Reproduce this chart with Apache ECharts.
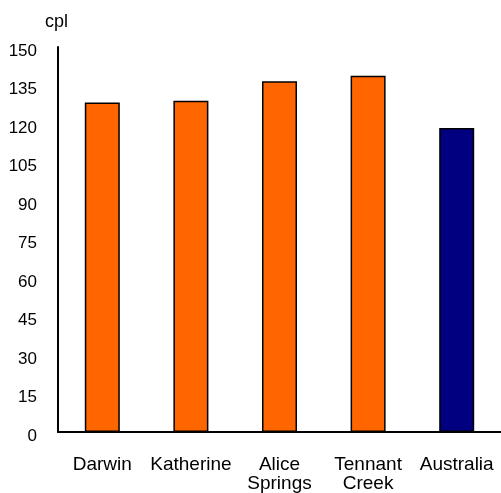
<!DOCTYPE html>
<html>
<head>
<meta charset="utf-8">
<script src="https://cdn.jsdelivr.net/npm/echarts@6/dist/echarts.min.js"></script>
<style>html,body{margin:0;padding:0;background:#fff}#c{width:501px;height:493px}</style>
</head>
<body>
<div id="c"></div>
<script>
const categories = ['Darwin', 'Katherine', 'Alice\nSprings', 'Tennant\nCreek', 'Australia'];
const values = [128.4, 129.1, 136.7, 138.8, 118.4];
const barColors = ['#FF6600', '#FF6600', '#FF6600', '#FF6600', '#000080'];
const yTicks = { min: 0, max: 150, interval: 15 };
const unitLabel = 'cpl';

const chart = echarts.init(document.getElementById('c'), null, { renderer: 'canvas' });
const font = 'Liberation Sans, Arial, sans-serif';
chart.setOption({
  animation: false,
  backgroundColor: '#fff',
  grid: { left: 58, top: 47, width: 445, height: 385.5, containLabel: false },
  title: {
    text: unitLabel, left: 40, top: 8,
    textStyle: { fontFamily: font, fontSize: 18, fontWeight: 'normal', color: '#000' }
  },
  xAxis: {
    type: 'category',
    data: categories,
    axisLine: { show: true, lineStyle: { color: '#000', width: 2 } },
    axisTick: { show: false },
    axisLabel: {
      fontFamily: font, fontSize: 19, color: '#000', margin: 23, lineHeight: 19,
      interval: 0
    },
    splitLine: { show: false }
  },
  yAxis: {
    type: 'value',
    min: yTicks.min, max: yTicks.max, interval: yTicks.interval,
    axisLine: { show: true, lineStyle: { color: '#000', width: 2 } },
    axisTick: { show: false },
    splitLine: { show: false },
    axisLabel: {
      fontFamily: font, fontSize: 17, color: '#000', margin: 21,
      verticalAlign: 'top', lineHeight: 8
    }
  },
  series: [{
    type: 'bar',
    barWidth: 35,
    data: values.map((v, i) => ({
      value: v,
      itemStyle: { color: barColors[i], borderColor: '#000', borderWidth: 1.5 }
    }))
  }]
});
</script>
</body>
</html>
